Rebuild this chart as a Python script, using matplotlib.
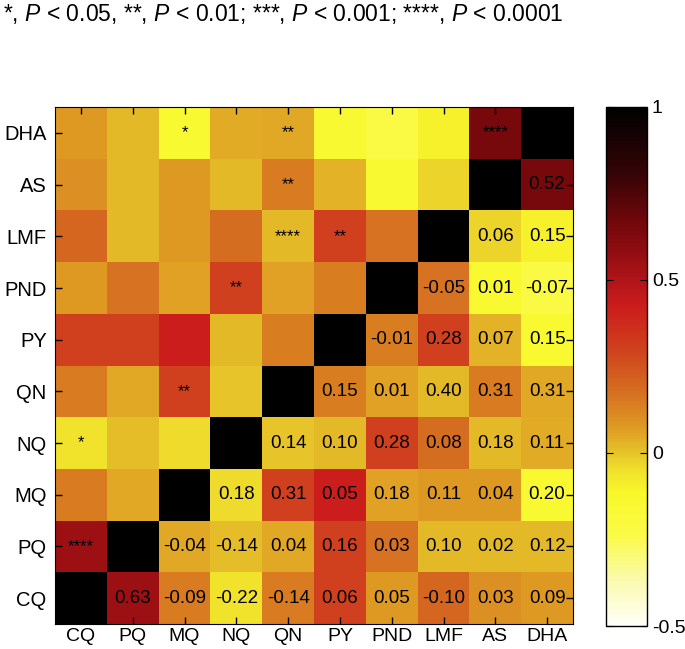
import numpy as np
import matplotlib
matplotlib.use("Agg")
import matplotlib.pyplot as plt
from matplotlib.colors import LinearSegmentedColormap

plt.rcParams['font.family'] = ['Liberation Sans', 'DejaVu Sans']
plt.rcParams['mathtext.fontset'] = 'custom'
plt.rcParams['mathtext.rm'] = 'Liberation Sans'
plt.rcParams['mathtext.it'] = 'Liberation Sans:italic'

labels = ["CQ", "PQ", "MQ", "NQ", "QN", "PY", "PND", "LMF", "AS", "DHA"]

# colour values, lower triangle (row k holds columns 0..k-1)
colour_tri = [
    [],
    [0.55],
    [0.15, 0.05],
    [-0.06, 0.01, -0.04],
    [0.15, 0.05, 0.30, 0.00],
    [0.30, 0.30, 0.42, 0.02, 0.14],
    [0.08, 0.17, 0.06, 0.30, 0.06, 0.14],
    [0.20, 0.02, 0.08, 0.18, 0.02, 0.30, 0.17],
    [0.10, 0.02, 0.08, 0.02, 0.15, 0.03, -0.15, -0.03],
    [0.08, 0.02, -0.15, 0.04, 0.05, -0.15, -0.22, -0.10, 0.65],
]

# printed coefficients, row k holds columns k+1..9
coef_text = [
    [0.63, -0.09, -0.22, -0.14, 0.06, 0.05, -0.10, 0.03, 0.09],
    [-0.04, -0.14, 0.04, 0.16, 0.03, 0.10, 0.02, 0.12],
    [0.18, 0.31, 0.05, 0.18, 0.11, 0.04, 0.20],
    [0.14, 0.10, 0.28, 0.08, 0.18, 0.11],
    [0.15, 0.01, 0.40, 0.31, 0.31],
    [-0.01, 0.28, 0.07, 0.15],
    [-0.05, 0.01, -0.07],
    [0.06, 0.15],
    [0.52],
]

# (row, column, stars)
stars = [
    ("DHA", "MQ", "*"), ("DHA", "QN", "**"), ("DHA", "AS", "****"),
    ("AS", "QN", "**"),
    ("LMF", "QN", "****"), ("LMF", "PY", "**"),
    ("PND", "NQ", "**"),
    ("QN", "MQ", "**"),
    ("NQ", "CQ", "*"),
    ("PQ", "CQ", "****"),
]

n = len(labels)
M = np.eye(n)
for r, row in enumerate(colour_tri):
    for c, v in enumerate(row):
        M[r, c] = v
        M[c, r] = v

vmin, vmax = -0.5, 1.0
stops = [(-0.5, "#fffff8"), (-0.36, "#fafaa8"), (-0.24, "#fafa48"),
         (-0.12, "#f9f82a"), (-0.05, "#f0e02c"), (0.0, "#e6c42a"),
         (0.06, "#e0a024"), (0.12, "#da8622"), (0.2, "#d46620"),
         (0.3, "#d0401e"), (0.42, "#cc1e1c"), (0.5, "#b01418"),
         (0.65, "#78080c"), (0.8, "#380406"), (1.0, "#000000")]
cmap = LinearSegmentedColormap.from_list(
    "corr", [((v - vmin) / (vmax - vmin), c) for v, c in stops])

fig = plt.figure(figsize=(6.85, 6.49), dpi=100)
ax = fig.add_axes([0.0803, 0.0385, 0.7562, 0.7965])
mesh = ax.pcolormesh(np.arange(n + 1) - 0.5, np.arange(n + 1) - 0.5, M,
                     cmap=cmap, vmin=vmin, vmax=vmax)
ax.set_xlim(-0.5, n - 0.5)
ax.set_ylim(-0.5, n - 0.5)
ax.set_xticks(range(n))
ax.set_yticks(range(n))
ax.set_xticklabels(labels, fontsize=14)
ax.set_yticklabels(labels, fontsize=14.5)
ax.tick_params(direction="in", length=5, width=1, top=True, right=True)
ax.tick_params(axis="x", pad=3)
ax.tick_params(axis="y", pad=6)

for r, row in enumerate(coef_text):
    for k, v in enumerate(row):
        c = r + 1 + k
        ax.text(c, r, f"{v:.2f}", ha="center", va="center", fontsize=13.5)

for rname, cname, s in stars:
    ax.text(labels.index(cname), labels.index(rname), s,
            ha="center", va="center", fontsize=12)

cax = fig.add_axes([0.8847, 0.0354, 0.0599, 0.80])
cb = fig.colorbar(mesh, cax=cax, ticks=[-0.5, 0, 0.5, 1])
cb.set_ticklabels(["-0.5", "0", "0.5", "1"])
cb.ax.tick_params(direction="in", length=5, labelsize=14, left=True, right=True)
cb.outline.set_linewidth(1)

fig.text(0.004, 0.978,
         r"*, $\mathit{P}$ < 0.05, **, $\mathit{P}$ < 0.01; ***, $\mathit{P}$ < 0.001; "
         r"****, $\mathit{P}$ < 0.0001",
         ha="left", va="center", fontsize=16.5)

fig.savefig("out.png", dpi=100)
